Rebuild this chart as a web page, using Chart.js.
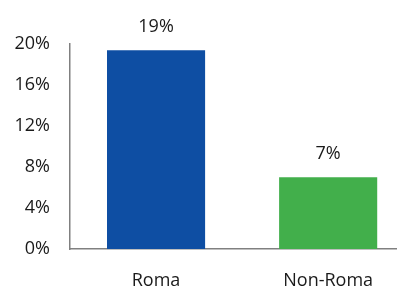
<!DOCTYPE html>
<html>
<head>
<meta charset="utf-8">
<script src="https://cdn.jsdelivr.net/npm/chart.js@4"></script>
<style>
  html, body { margin: 0; padding: 0; background: #fff; }
  #wrap { width: 397px; height: 289px; }
</style>
</head>
<body>
<div id="wrap"><canvas id="chart" width="397" height="289"></canvas></div>
<script>
// chart data
const categories = ['Roma', 'Non-Roma'];
const shares = [19.4, 7.0];
const shareLabels = ['19%', '7%'];
const barColors = ['#0E4EA3', '#42AF4B'];

const FONT = '"Open Sans", "Noto Sans", sans-serif';
const AXIS_GREY = '#808080';

// write the value above each bar
const barLabels = {
  id: 'barLabels',
  afterDatasetsDraw(chart) {
    const ctx = chart.ctx;
    const meta = chart.getDatasetMeta(0);
    ctx.save();
    ctx.font = '18px ' + FONT;
    ctx.fillStyle = '#1a1a1a';
    ctx.textAlign = 'center';
    ctx.textBaseline = 'bottom';
    meta.data.forEach((bar, i) => {
      ctx.fillText(shareLabels[i], bar.x, bar.y - 14);
    });
    ctx.restore();
  }
};

new Chart(document.getElementById('chart'), {
  type: 'bar',
  data: {
    datasets: [{
      data: categories.map((c, i) => ({ x: i, y: shares[i] })),
      backgroundColor: barColors,
      borderWidth: 0,
      barPercentage: 0.57,
      categoryPercentage: 1
    }]
  },
  options: {
    responsive: false,
    animation: false,
    layout: { padding: { top: 44, right: 0, left: 0, bottom: 0 } },
    plugins: { legend: { display: false }, tooltip: { enabled: false } },
    scales: {
      x: {
        type: 'linear',
        min: -0.5,
        max: 1.4,
        offset: false,
        grid: { display: false, drawTicks: false, offset: false },
        border: { color: AXIS_GREY, width: 1.5 },
        afterBuildTicks(scale) {
          scale.ticks = categories.map((c, i) => ({ value: i }));
        },
        afterFit(scale) {
          scale.height = 40;
          scale.paddingLeft = 0;
          scale.paddingRight = 0;
        },
        ticks: {
          padding: 21,
          maxRotation: 0,
          autoSkip: false,
          color: '#1a1a1a',
          font: { family: FONT, size: 18 },
          callback: v => categories[v] ?? ''
        }
      },
      y: {
        min: 0,
        max: 20,
        grid: { display: false, drawTicks: false },
        border: { color: AXIS_GREY, width: 1.5 },
        afterFit(scale) { scale.width = 70; },
        ticks: {
          stepSize: 4,
          padding: 20,
          color: '#1a1a1a',
          font: { family: FONT, size: 18 },
          callback: v => v + '%'
        }
      }
    }
  },
  plugins: [barLabels]
});
</script>
</body>
</html>
